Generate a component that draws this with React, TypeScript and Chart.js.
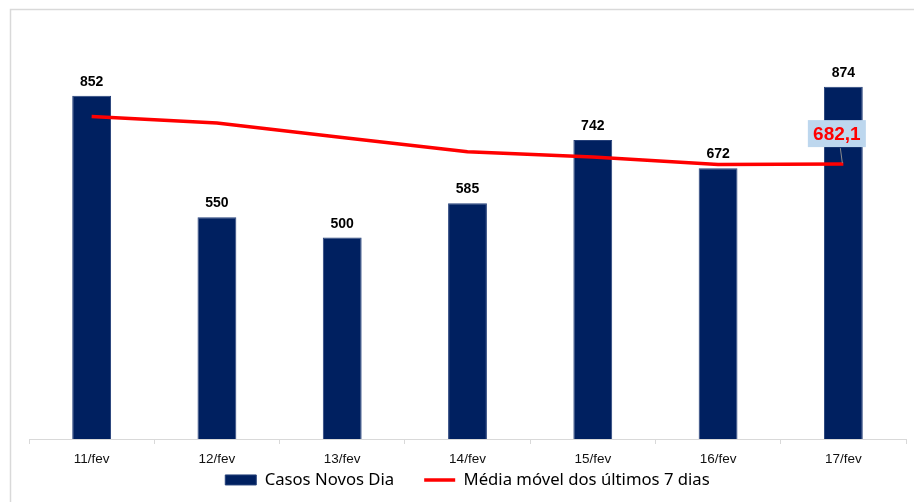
import React, { useEffect, useRef } from "react";
import { Chart, registerables } from "chart.js";

Chart.register(...registerables);

const categories = ["11/fev", "12/fev", "13/fev", "14/fev", "15/fev", "16/fev", "17/fev"];
const casosNovosDia = [852, 550, 500, 585, 742, 672, 874];
const mediaMovel = [800, 784, 748, 713, 700, 681, 682.1];
const lastMediaLabel = "682,1";
const seriesNames = ["Casos Novos Dia", "Média móvel dos últimos 7 dias"];

const framePlugin = {
  id: "frame",
  beforeDraw(chart: any) {
    const ctx = chart.ctx;
    ctx.save();
    ctx.fillStyle = "#ffffff";
    ctx.fillRect(0, 0, chart.width, chart.height);
    ctx.strokeStyle = "#d9d9d9";
    ctx.lineWidth = 1.5;
    ctx.strokeRect(10.5, 9.5, 1000, 1000);
    ctx.restore();
  },
};

const labelsPlugin = {
  id: "valueLabels",
  afterDatasetsDraw(chart: any) {
    const ctx = chart.ctx;
    ctx.save();
    const barMeta = chart.getDatasetMeta(0);
    ctx.font = "bold 14px 'Liberation Sans', Arial, sans-serif";
    ctx.fillStyle = "#000000";
    ctx.textAlign = "center";
    ctx.textBaseline = "alphabetic";
    barMeta.data.forEach((el: any, i: number) => {
      ctx.fillText(String(casosNovosDia[i]), el.x, el.y - 10);
    });
    const lineMeta = chart.getDatasetMeta(1);
    const last = lineMeta.data[lineMeta.data.length - 1];
    if (last) {
      const cx = last.x - 6.5;
      const cy = last.y - 30;
      ctx.strokeStyle = "#8c8c8c";
      ctx.lineWidth = 1;
      ctx.beginPath();
      ctx.moveTo(cx + 3.5, cy + 14);
      ctx.lineTo(last.x - 1, last.y - 1);
      ctx.stroke();
      ctx.fillStyle = "#bdd7ee";
      ctx.fillRect(cx - 29, cy - 14, 58, 27);
      ctx.font = "bold 19px 'Liberation Sans', Arial, sans-serif";
      ctx.fillStyle = "#ff0000";
      ctx.textBaseline = "middle";
      ctx.fillText(lastMediaLabel, cx, cy + 1);
    }
    ctx.restore();
  },
};

export default function App() {
  const ref = useRef<HTMLCanvasElement | null>(null);
  useEffect(() => {
    if (!ref.current) return;
    const chart = new Chart(ref.current, {
      type: "bar",
      data: {
        labels: categories,
        datasets: [
          {
            type: "bar",
            label: seriesNames[0],
            data: casosNovosDia,
            backgroundColor: "#002060",
            borderColor: "#25407a",
            borderWidth: 1,
            categoryPercentage: 1,
            barPercentage: 0.31,
            order: 2,
            pointStyle: "rect",
          } as any,
          {
            type: "line",
            label: seriesNames[1],
            data: mediaMovel,
            borderColor: "#ff0000",
            backgroundColor: "#ff0000",
            borderWidth: 3.5,
            pointRadius: 0,
            tension: 0,
            order: 1,
            pointStyle: "line",
          } as any,
        ],
      },
      options: {
        responsive: false,
        animation: false,
        layout: { padding: { left: 29, right: 8, top: 36, bottom: 3.7 } },
        plugins: {
          tooltip: { enabled: false },
          legend: {
            position: "bottom",
            labels: {
              usePointStyle: true,
              pointStyleWidth: 31,
              boxHeight: 10,
              padding: 4,
              color: "#000000",
              font: { family: "'Noto Sans', sans-serif", size: 16.7 },
              sort: (a: any, b: any) => a.datasetIndex - b.datasetIndex,
              generateLabels: (chart: any) => {
                const items = (Chart.defaults as any).plugins.legend.labels.generateLabels(chart);
                items.forEach((it: any) => {
                  if (it.datasetIndex === 0) it.text = it.text + "      ";
                });
                return items;
              },
            },
          },
        },
        scales: {
          x: {
            afterFit: (scale: any) => {
              scale.height = 28.6;
            },
            grid: {
              display: true,
              drawOnChartArea: false,
              drawTicks: true,
              tickLength: 5,
              color: "#d9d9d9",
              offset: true,
            },
            border: { display: true, color: "#d9d9d9", width: 1 },
            ticks: {
              color: "#111111",
              padding: 7,
              font: { family: "'Liberation Sans', Arial, sans-serif", size: 13.5 },
            },
          },
          y: {
            display: false,
            min: 0,
            max: 1000,
          },
        },
      },
      plugins: [framePlugin, labelsPlugin],
    });
    return () => chart.destroy();
  }, []);
  return (
    <div style={{ position: "absolute", left: 0, top: 0, width: 914, height: 502 }}>
      <canvas ref={ref} width={914} height={502} style={{ display: "block" }} />
    </div>
  );
}
